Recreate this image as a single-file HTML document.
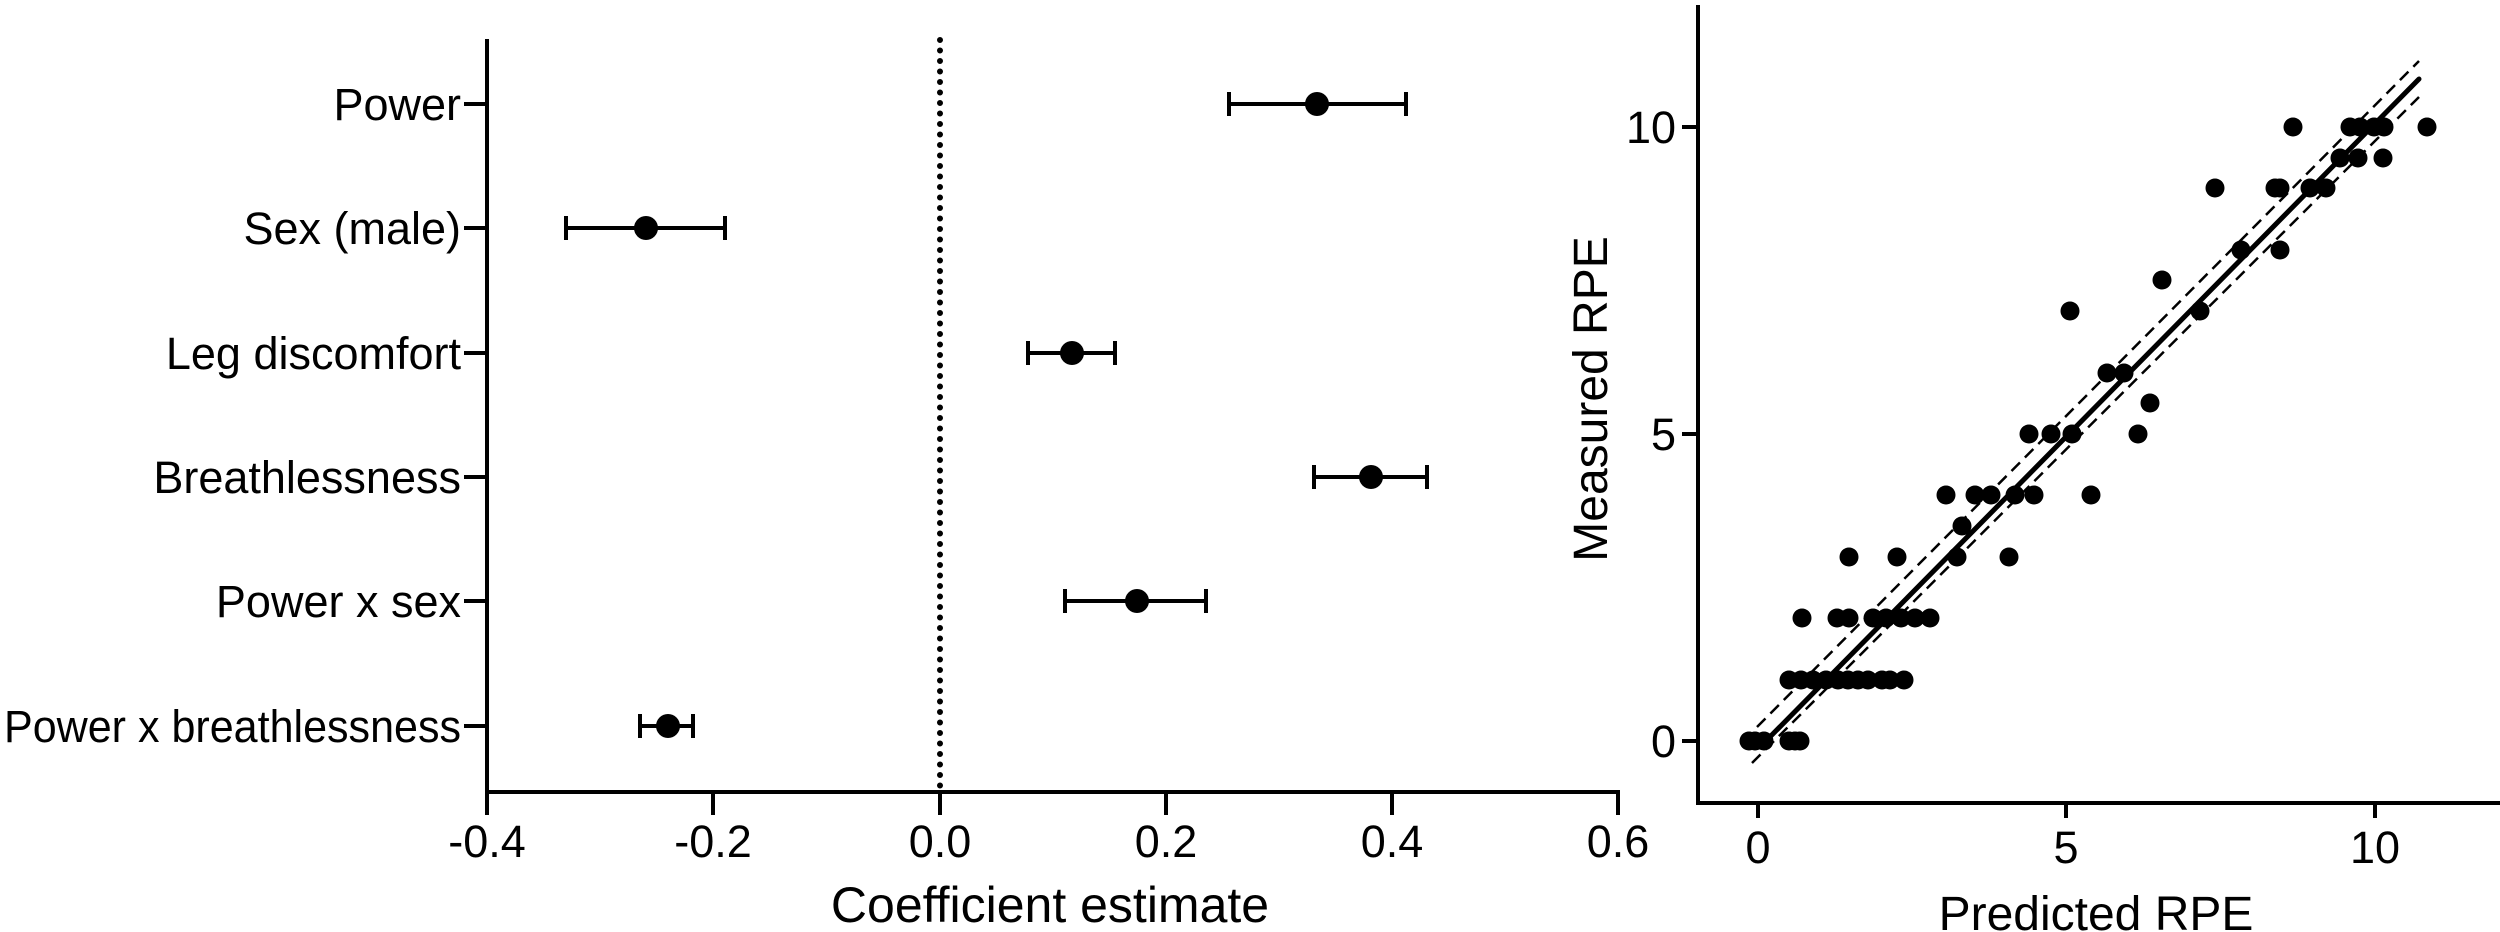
<!DOCTYPE html>
<html><head><meta charset="utf-8"><style>
html,body{margin:0;padding:0;background:#fff;}
svg{display:block;}
text{font-family:"Liberation Sans",Arial,sans-serif;fill:#000;}
</style></head><body>
<svg width="2500" height="932" viewBox="0 0 2500 932" xmlns="http://www.w3.org/2000/svg">
<!-- LEFT PANEL -->
<g stroke="#000" stroke-width="4" fill="none">
<line x1="487" y1="39" x2="487" y2="794"/>
<line x1="485" y1="792" x2="1620" y2="792"/>
<line x1="487" y1="792" x2="487" y2="815"/>
<line x1="713" y1="792" x2="713" y2="815"/>
<line x1="940" y1="792" x2="940" y2="815"/>
<line x1="1166" y1="792" x2="1166" y2="815"/>
<line x1="1392" y1="792" x2="1392" y2="815"/>
<line x1="1618" y1="792" x2="1618" y2="815"/>
<line x1="464" y1="104" x2="487" y2="104"/>
<line x1="464" y1="228" x2="487" y2="228"/>
<line x1="464" y1="353" x2="487" y2="353"/>
<line x1="464" y1="477" x2="487" y2="477"/>
<line x1="464" y1="601" x2="487" y2="601"/>
<line x1="464" y1="726" x2="487" y2="726"/>
</g>
<line x1="940" y1="40" x2="940" y2="790" stroke="#000" stroke-width="6" stroke-linecap="round" stroke-dasharray="0 10.5"/>
<g font-size="45" text-anchor="end">
<text x="461" y="120">Power</text>
<text x="461" y="244">Sex (male)</text>
<text x="461" y="369">Leg discomfort</text>
<text x="461" y="493">Breathlessness</text>
<text x="461" y="617">Power x sex</text>
<text x="461" y="742" textLength="457" lengthAdjust="spacingAndGlyphs">Power x breathlessness</text>
</g>
<g font-size="45" text-anchor="middle">
<text x="487" y="857">-0.4</text>
<text x="713" y="857">-0.2</text>
<text x="940" y="857">0.0</text>
<text x="1166" y="857">0.2</text>
<text x="1392" y="857">0.4</text>
<text x="1618" y="857">0.6</text>
</g>
<text x="1050" y="922" font-size="50" text-anchor="middle">Coefficient estimate</text>
<g stroke="#000" stroke-width="4" fill="none">
<path d="M1229 104H1406M1229 92V116M1406 92V116"/>
<path d="M566 228H725M566 216V240M725 216V240"/>
<path d="M1028 353H1115M1028 341V365M1115 341V365"/>
<path d="M1314 477H1427M1314 465V489M1427 465V489"/>
<path d="M1065 601H1206M1065 589V613M1206 589V613"/>
<path d="M640 726H693M640 714V738M693 714V738"/>
</g>
<g fill="#000">
<circle cx="1317" cy="104" r="12"/>
<circle cx="646" cy="228" r="12"/>
<circle cx="1072" cy="353" r="12"/>
<circle cx="1371" cy="477" r="12"/>
<circle cx="1137" cy="601" r="12"/>
<circle cx="668" cy="726" r="12"/>
</g>
<!-- RIGHT PANEL -->
<g stroke="#000" stroke-width="4" fill="none">
<line x1="1698" y1="5" x2="1698" y2="805"/>
<line x1="1696" y1="803" x2="2500" y2="803"/>
<line x1="1758" y1="803" x2="1758" y2="818"/>
<line x1="2066" y1="803" x2="2066" y2="818"/>
<line x1="2375" y1="803" x2="2375" y2="818"/>
<line x1="1682" y1="741" x2="1698" y2="741"/>
<line x1="1682" y1="434" x2="1698" y2="434"/>
<line x1="1682" y1="127" x2="1698" y2="127"/>
</g>
<g font-size="45" text-anchor="end">
<text x="1676" y="757">0</text>
<text x="1676" y="450">5</text>
<text x="1676" y="143">10</text>
</g>
<g font-size="45" text-anchor="middle">
<text x="1758" y="863">0</text>
<text x="2066" y="863">5</text>
<text x="2375" y="863">10</text>
</g>
<text x="2096" y="930" font-size="48" text-anchor="middle">Predicted RPE</text>
<text transform="translate(1607,399) rotate(-90)" font-size="48" text-anchor="middle">Measured RPE</text>
<g fill="#000">
<circle cx="1749" cy="741" r="9.5"/><circle cx="1764" cy="741" r="9.5"/><circle cx="1789" cy="741" r="9.5"/><circle cx="1800" cy="741" r="9.5"/><circle cx="1755" cy="741" r="9.5"/><circle cx="1795" cy="741" r="9.5"/>
<circle cx="1789" cy="680" r="9.5"/><circle cx="1801" cy="680" r="9.5"/><circle cx="1813" cy="680" r="9.5"/><circle cx="1826" cy="680" r="9.5"/><circle cx="1838" cy="680" r="9.5"/><circle cx="1848" cy="680" r="9.5"/><circle cx="1858" cy="680" r="9.5"/><circle cx="1868" cy="680" r="9.5"/><circle cx="1882" cy="680" r="9.5"/><circle cx="1890" cy="680" r="9.5"/><circle cx="1904" cy="680" r="9.5"/>
<circle cx="1802" cy="618" r="9.5"/><circle cx="1837" cy="618" r="9.5"/><circle cx="1849" cy="618" r="9.5"/><circle cx="1873" cy="618" r="9.5"/><circle cx="1886" cy="618" r="9.5"/><circle cx="1901" cy="618" r="9.5"/><circle cx="1915" cy="618" r="9.5"/><circle cx="1930" cy="618" r="9.5"/>
<circle cx="1849" cy="557" r="9.5"/><circle cx="1897" cy="557" r="9.5"/><circle cx="1957" cy="557" r="9.5"/><circle cx="2009" cy="557" r="9.5"/>
<circle cx="1962" cy="526" r="9.5"/>
<circle cx="1946" cy="495" r="9.5"/><circle cx="1975" cy="495" r="9.5"/><circle cx="1991" cy="495" r="9.5"/><circle cx="2015" cy="495" r="9.5"/><circle cx="2034" cy="495" r="9.5"/><circle cx="2091" cy="495" r="9.5"/>
<circle cx="2029" cy="434" r="9.5"/><circle cx="2051" cy="434" r="9.5"/><circle cx="2072" cy="434" r="9.5"/><circle cx="2138" cy="434" r="9.5"/>
<circle cx="2150" cy="403" r="9.5"/>
<circle cx="2107" cy="373" r="9.5"/><circle cx="2124" cy="373" r="9.5"/>
<circle cx="2070" cy="311" r="9.5"/><circle cx="2200" cy="311" r="9.5"/>
<circle cx="2162" cy="280" r="9.5"/>
<circle cx="2241" cy="250" r="9.5"/><circle cx="2280" cy="250" r="9.5"/>
<circle cx="2215" cy="188" r="9.5"/><circle cx="2275" cy="188" r="9.5"/><circle cx="2280" cy="188" r="9.5"/><circle cx="2310" cy="188" r="9.5"/><circle cx="2326" cy="188" r="9.5"/>
<circle cx="2340" cy="158" r="9.5"/><circle cx="2358" cy="158" r="9.5"/><circle cx="2383" cy="158" r="9.5"/>
<circle cx="2293" cy="127" r="9.5"/><circle cx="2350" cy="127" r="9.5"/><circle cx="2360" cy="127" r="9.5"/><circle cx="2374" cy="127" r="9.5"/><circle cx="2384" cy="127" r="9.5"/><circle cx="2427" cy="127" r="9.5"/>
</g>
<g stroke="#000" fill="none">
<line x1="1760" y1="747" x2="2419" y2="79" stroke-width="5" stroke-linecap="round"/>
<line x1="1757" y1="727" x2="2419" y2="61" stroke-width="2.5" stroke-dasharray="12 7"/>
<line x1="1752" y1="763" x2="2419" y2="97" stroke-width="2.5" stroke-dasharray="12 7"/>
</g>
</svg>
</body></html>
